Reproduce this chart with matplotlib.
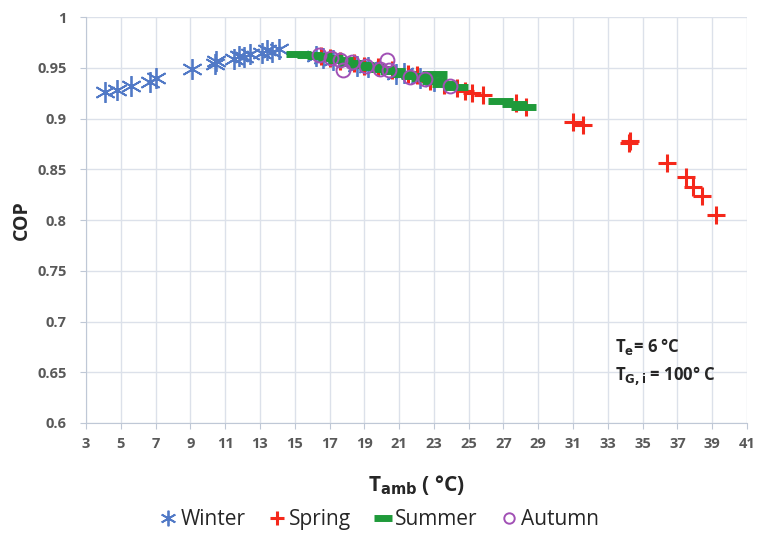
import matplotlib
matplotlib.use("Agg")
import matplotlib.pyplot as plt
from matplotlib.ticker import FuncFormatter

# ambient temperature (degC) and COP for each season
winter_t = [4.1, 4.8, 5.6, 6.7, 7.0, 9.1, 10.4, 10.5, 11.5, 11.8, 12.1, 12.4,
            13.1, 13.4, 13.7, 14.1, 16.2, 16.6, 17.2, 18.6, 19.2, 20.8, 21.3, 22.2, 23.0]
winter_cop = [0.926, 0.928, 0.932, 0.936, 0.940, 0.949, 0.954, 0.957, 0.959, 0.962, 0.961, 0.964,
              0.965, 0.968, 0.966, 0.969, 0.962, 0.960, 0.958, 0.952, 0.951, 0.944, 0.945, 0.940, 0.937]

spring_t = [16.5, 17.0, 17.6, 18.4, 19.0, 19.8, 20.6, 21.5, 22.0, 22.8, 23.6, 24.3,
            24.8, 25.2, 25.8, 27.7, 28.3, 31.0, 31.6, 34.2, 34.25, 36.4, 37.5, 37.9, 38.4, 39.2]
spring_cop = [0.962, 0.960, 0.957, 0.955, 0.952, 0.951, 0.948, 0.944, 0.943, 0.937, 0.933, 0.930,
              0.927, 0.925, 0.923, 0.915, 0.911, 0.897, 0.894, 0.876, 0.878, 0.856, 0.842, 0.833, 0.824, 0.805]

summer_t = [15.2, 15.8, 16.4, 17.0, 17.6, 18.2, 18.8, 19.4, 20.0, 20.6, 21.2, 21.8,
            22.4, 23.0, 23.0, 23.6, 24.2, 26.8, 27.6, 28.1]
summer_cop = [0.964, 0.963, 0.962, 0.960, 0.958, 0.955, 0.953, 0.951, 0.949, 0.947, 0.944, 0.942,
              0.940, 0.944, 0.937, 0.934, 0.931, 0.917, 0.914, 0.911]

autumn_t = [16.4, 17.1, 17.6, 17.8, 18.3, 19.1, 19.9, 20.3, 20.4, 21.6, 22.5, 23.9]
autumn_cop = [0.963, 0.960, 0.958, 0.948, 0.956, 0.952, 0.949, 0.958, 0.948, 0.941, 0.939, 0.932]

x_ticks = list(range(3, 42, 2))
y_ticks = [0.6, 0.65, 0.7, 0.75, 0.8, 0.85, 0.9, 0.95, 1.0]

plt.rcParams['font.family'] = ['Open Sans', 'DejaVu Sans']

fig = plt.figure(figsize=(7.57, 5.33), dpi=100)
ax = fig.add_axes([0.1136, 0.2064, 0.8732, 0.7616])

ax.plot(winter_t, winter_cop, linestyle='none', marker=(6, 2, 0), markersize=15,
        markeredgewidth=1.3, color='#5179C6', label='Winter', zorder=3)
ax.plot(spring_t, spring_cop, linestyle='none', marker='+', markersize=13,
        markeredgewidth=2.2, color='#F5281B', label='Spring', zorder=4)
ax.plot(summer_t, summer_cop, linestyle='none', marker='_', markersize=18,
        markeredgewidth=5, color='#1F9A3A', label='Summer', zorder=5)
ax.plot(autumn_t, autumn_cop, linestyle='none', marker='o', markersize=10,
        markerfacecolor='none', markeredgewidth=1.4, color='#A150B5', label='Autumn', zorder=6)

ax.set_xlim(3, 41)
ax.set_ylim(0.6, 1.0)
ax.set_xticks(x_ticks)
ax.set_yticks(y_ticks)
ax.yaxis.set_major_formatter(FuncFormatter(lambda v, p: '%g' % round(v, 2)))
ax.grid(True, color='#DCE1EA', linewidth=1.0)
ax.set_axisbelow(True)
for side in ['top', 'right']:
    ax.spines[side].set_visible(False)
for side in ['left', 'bottom']:
    ax.spines[side].set_color('#BFC8D6')
ax.tick_params(axis='both', colors='#BFC8D6', length=4, labelcolor='#595959',
               labelsize=10.5)
ax.tick_params(axis='x', pad=6)
ax.tick_params(axis='y', pad=10)
for lbl in ax.get_xticklabels() + ax.get_yticklabels():
    lbl.set_fontweight('bold')

ax.set_ylabel('COP', fontsize=14, fontweight='bold', color='#262626', labelpad=4)
ax.set_xlabel(r'T$_{\mathbf{amb}}$ ( °C)', fontsize=15, fontweight='bold',
              color='#262626', labelpad=16)

ax.text(0.80, 0.175, r'T$_{\mathbf{e}}$= 6 °C', transform=ax.transAxes,
        fontsize=12, fontweight='bold', color='#262626')
ax.text(0.80, 0.105, r'T$_{\mathbf{G,i}}$ = 100° C', transform=ax.transAxes,
        fontsize=12, fontweight='bold', color='#262626')

fig.legend(loc='lower center', bbox_to_anchor=(0.5, -0.03), ncol=4, frameon=False,
           fontsize=15, handletextpad=0.1, columnspacing=1.0, handlelength=1.0,
           markerscale=0.75, labelcolor='#262626')

fig.savefig('out.png', dpi=100)
